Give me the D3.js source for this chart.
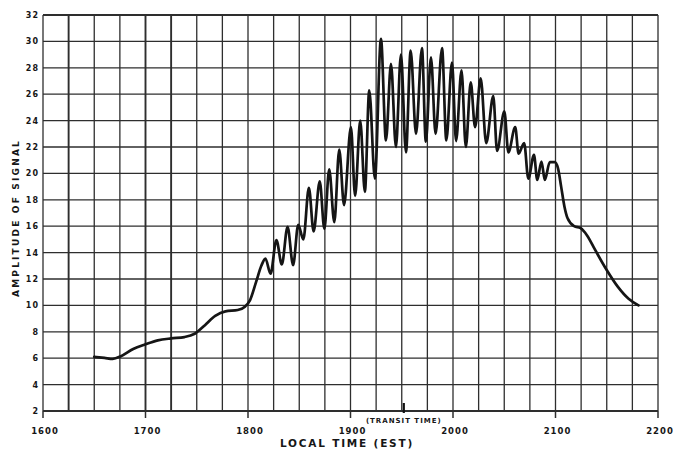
<!DOCTYPE html>
<html>
<head>
<meta charset="utf-8">
<script src="https://cdn.jsdelivr.net/npm/d3@7/dist/d3.min.js"></script>
<style>
  html, body { margin: 0; padding: 0; background: #fff; }
  svg { display: block; }
  text { font-family: "DejaVu Sans", "Liberation Sans", sans-serif; font-weight: bold; fill: #161616; }
</style>
</head>
<body>
<svg id="chart" width="673" height="449"></svg>
<script>
// Recorded signal amplitude against local time (EST, hhmm)
const timeTicks = [1600, 1700, 1800, 1900, 2000, 2100, 2200];
const amplitudeTicks = [2, 4, 6, 8, 10, 12, 14, 16, 18, 20, 22, 24, 26, 28, 30, 32];
const transitTime = 1952;

const times = [
  1650, 1660, 1668, 1676, 1688, 1700, 1712, 1725, 1738, 1748, 1758, 1768, 1778, 1790, 1797,
  1802, 1808, 1813, 1817, 1822, 1827.7, 1833, 1838.6, 1844, 1849, 1854, 1859.4, 1864, 1870,
  1874.5, 1879.2, 1884.2, 1889, 1893.7, 1900.4, 1904.5, 1909.5, 1914, 1918.3, 1923.8, 1929.7,
  1934.6, 1939.5, 1944.3, 1949.2, 1954.1, 1958.7, 1963.9, 1969.7, 1973.5, 1978.5, 1983, 1989.3,
  1993.5, 1999, 2003, 2008.3, 2012.5, 2017.3, 2021.5, 2027, 2032.4, 2039.3, 2043, 2050.1, 2054,
  2060.7, 2064, 2069.4, 2073.5, 2079, 2082.2, 2086.3, 2089.6, 2094.4, 2099.2, 2102.4, 2105.5,
  2108.7, 2111.8, 2118.2, 2124.5, 2130.8, 2138.7, 2149.8, 2160.9, 2171.3, 2181
];
const amplitude = [
  6.1, 6.02, 5.95, 6.15, 6.7, 7.05, 7.35, 7.5, 7.6, 7.85, 8.5, 9.2, 9.55, 9.65, 9.9,
  10.4, 11.8, 13.0, 13.55, 12.4, 14.95, 13.1, 15.95, 13.05, 16.1, 15.0, 18.9, 15.6, 19.4,
  15.8, 20.3, 16.3, 21.8, 17.6, 23.5, 18.3, 24.0, 18.6, 26.3, 19.6, 30.2,
  22.5, 28.3, 22.0, 29.0, 21.6, 29.3, 23.0, 29.5, 22.4, 28.8, 23.0, 29.5,
  22.5, 28.4, 22.45, 27.8, 22.0, 26.9, 23.5, 27.2, 22.3, 25.85, 21.7, 24.7, 21.6,
  23.5, 21.5, 22.3, 19.6, 21.4, 19.5, 20.9, 19.5, 20.85, 20.85, 20.4, 19.0,
  17.5, 16.6, 16.0, 15.85, 15.3, 14.2, 12.7, 11.4, 10.5, 10.0
];

const svg = d3.select("#chart");
const x = d3.scaleLinear().domain([1600, 2200]).range([43, 658]);
const y = d3.scaleLinear().domain([2, 32]).range([411, 15]);

const gridColor = "#2e2e2e";
const heavy = new Set([1625, 1700, 1725]);

// vertical grid, one line every quarter hour
const grid = svg.append("g");
grid.selectAll("line.v")
  .data(d3.range(1600, 2201, 25))
  .join("line")
  .attr("x1", d => x(d)).attr("x2", d => x(d))
  .attr("y1", y(32)).attr("y2", y(2))
  .attr("stroke", gridColor)
  .attr("stroke-width", d => heavy.has(d) ? 1.9 : 1.3);

// horizontal grid
grid.selectAll("line.h")
  .data(amplitudeTicks)
  .join("line")
  .attr("x1", x(1600)).attr("x2", x(2200))
  .attr("y1", d => y(d)).attr("y2", d => y(d))
  .attr("stroke", gridColor)
  .attr("stroke-width", d => (d === 2 || d === 32) ? 2 : 1.3);

// short marks below the frame at each hour
grid.selectAll("line.tick")
  .data(timeTicks)
  .join("line")
  .attr("x1", d => x(d)).attr("x2", d => x(d))
  .attr("y1", y(2)).attr("y2", y(2) + 7)
  .attr("stroke", gridColor)
  .attr("stroke-width", 1.5);

// transit marker
svg.append("line")
  .attr("x1", x(transitTime)).attr("x2", x(transitTime))
  .attr("y1", y(2) - 8).attr("y2", y(2) + 2)
  .attr("stroke", "#111").attr("stroke-width", 2.2);
svg.append("text")
  .attr("x", x(transitTime)).attr("y", 423)
  .attr("text-anchor", "middle")
  .attr("font-size", 7)
  .attr("letter-spacing", 1)
  .text("(TRANSIT TIME)");

// y tick labels
svg.append("g").selectAll("text")
  .data(amplitudeTicks)
  .join("text")
  .attr("x", 39)
  .attr("y", d => y(d) + 3)
  .attr("text-anchor", "end")
  .attr("font-size", 8)
  .attr("letter-spacing", 1)
  .text(d => d);

// x tick labels
svg.append("g").selectAll("text")
  .data(timeTicks)
  .join("text")
  .attr("x", d => x(d) + 2)
  .attr("y", 434)
  .attr("text-anchor", "middle")
  .attr("font-size", 8.5)
  .attr("letter-spacing", 1)
  .text(d => d);

// axis titles
svg.append("text")
  .attr("transform", "translate(19,218) rotate(-90)")
  .attr("text-anchor", "middle")
  .attr("font-size", 9)
  .attr("letter-spacing", 2.2)
  .text("AMPLITUDE OF SIGNAL");
svg.append("text")
  .attr("x", 347).attr("y", 447)
  .attr("text-anchor", "middle")
  .attr("font-size", 10.5)
  .attr("letter-spacing", 1.8)
  .text("LOCAL TIME (EST)");

// signal trace
const points = times.map((t, i) => [t, amplitude[i]]);
const line = d3.line()
  .x(d => x(d[0]))
  .y(d => y(d[1]))
  .curve(d3.curveMonotoneX);
svg.append("path")
  .datum(points)
  .attr("d", line)
  .attr("fill", "none")
  .attr("stroke", "#151515")
  .attr("stroke-width", 2.7)
  .attr("stroke-linejoin", "round")
  .attr("stroke-linecap", "round");
</script>
</body>
</html>
